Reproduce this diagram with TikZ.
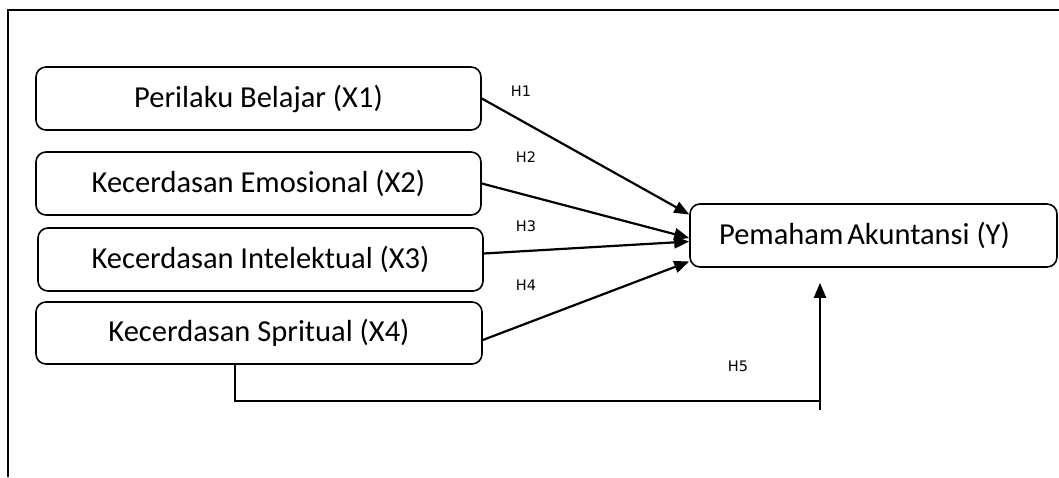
\documentclass[tikz,border=0pt]{standalone}
\usepackage{fontspec}
\setmainfont{Carlito}
\newfontfamily\lblfont{DejaVu Sans}
\usetikzlibrary{arrows.meta}
\begin{document}
\begin{tikzpicture}[x=1pt,y=-1pt,
  varbox/.style={draw,line width=1.6pt,rounded corners=10pt,minimum height=63pt,inner sep=0pt,font=\fontsize{30.5}{35}\selectfont},
  hlabel/.style={font=\lblfont\fontsize{14.5}{16}\selectfont,inner sep=0pt},
  arr/.style={line width=2.2pt,-{Triangle[length=15pt,width=12pt]}},
  conn/.style={line width=2.2pt}]
\useasboundingbox (0,0) rectangle (1059,477);
\draw[line width=1.8pt] (8,477) -- (8,10) -- (1059,10);
\node[varbox,minimum width=445pt] (x1) at (258.5,98.5) {Perilaku Belajar (X1)};
\node[varbox,minimum width=445pt] (x2) at (258.5,183.5) {Kecerdasan Emosional (X2)};
\node[varbox,minimum width=445pt] (x3) at (260.5,259.5) {Kecerdasan Intelektual (X3)};
\node[varbox,minimum width=446pt,minimum height=62pt] (x4) at (259,333) {Kecerdasan Spritual (X4)};
\node[varbox,minimum width=367pt] (y) at (873.5,235.5) {\hspace*{-18pt}Pemaham\hspace{-3pt} Akuntansi (Y)};
\node[hlabel] (h1) at (521,91.5) {H1};
\node[hlabel] (h2) at (526,157) {H2};
\node[hlabel] (h3) at (526,226.5) {H3};
\node[hlabel] (h4) at (526,285) {H4};
\node[hlabel] (h5) at (738,366.5) {H5};
\draw[arr] (x1.east) -- ([yshift=21pt]y.west);
\draw[arr] (x2.east) -- ([yshift=-2.5pt]y.west);
\draw[arr] ([yshift=6pt]x3.east) -- ([yshift=-6pt]y.west);
\draw[arr] ([yshift=-7pt]x4.east) -- ([yshift=-26pt]y.west);
\coordinate (h5s) at ([xshift=200pt]x4.south west);
\coordinate (h5c) at (820,401);
\coordinate (h5e) at (820,410);
\draw[conn] (h5s) |- (h5c);
\draw[arr] (h5e) -- ([yshift=-15pt]y.south -| h5e);
\end{tikzpicture}
\end{document}
